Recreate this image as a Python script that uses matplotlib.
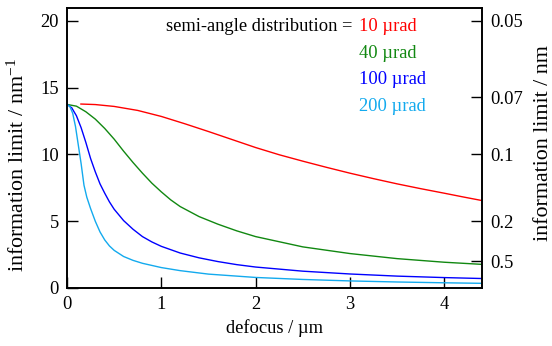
import matplotlib
matplotlib.use("Agg")
import matplotlib.pyplot as plt

plt.rcParams['font.family'] = ['Liberation Serif', 'DejaVu Serif']
plt.rcParams['mathtext.fontset'] = 'custom'
plt.rcParams['mathtext.rm'] = 'Liberation Serif'
plt.rcParams['mathtext.it'] = 'Liberation Serif:italic'

# ---- data ----
labels = ["10 µrad", "40 µrad", "100 µrad", "200 µrad"]
colors = ["#ff0000", "#118811", "#0000ff", "#13aaee"]

red_d = [0.145, 0.3, 0.5, 0.75, 1.0, 1.25, 1.5, 1.75, 2.0, 2.25, 2.5, 2.75, 3.0, 3.25, 3.5, 3.75, 4.0, 4.2, 4.4]
red_v = [13.78, 13.74, 13.6, 13.3, 12.85, 12.3, 11.72, 11.12, 10.52, 9.98, 9.5, 9.04, 8.6, 8.19, 7.8, 7.44, 7.1, 6.82, 6.55]

green_d = [0.0, 0.1, 0.2, 0.3, 0.4, 0.5, 0.6, 0.7, 0.8, 0.9, 1.0, 1.1, 1.2, 1.4, 1.6, 1.8, 2.0, 2.5, 3.0, 3.5, 4.0, 4.4]
green_v = [13.75, 13.62, 13.2, 12.65, 11.95, 11.15, 10.25, 9.4, 8.6, 7.85, 7.2, 6.6, 6.1, 5.35, 4.78, 4.28, 3.85, 3.08, 2.58, 2.2, 1.93, 1.77]

blue_d = [0.0, 0.05, 0.1, 0.15, 0.2, 0.25, 0.3, 0.35, 0.4, 0.45, 0.5, 0.6, 0.7, 0.8, 0.9, 1.0, 1.2, 1.4, 1.6, 1.8, 2.0, 2.5, 3.0, 3.5, 4.0, 4.4]
blue_v = [13.75, 13.5, 12.9, 12.0, 10.9, 9.7, 8.7, 7.8, 7.1, 6.45, 5.9, 5.05, 4.4, 3.85, 3.45, 3.12, 2.62, 2.26, 1.98, 1.75, 1.57, 1.26, 1.05, 0.89, 0.78, 0.71]

cyan_d = [0.0, 0.03, 0.06, 0.09, 0.12, 0.15, 0.18, 0.21, 0.25, 0.3, 0.35, 0.4, 0.45, 0.5, 0.6, 0.7, 0.8, 1.0, 1.2, 1.5, 2.0, 2.5, 3.0, 3.5, 4.0, 4.4]
cyan_v = [13.75, 13.6, 13.1, 12.1, 10.7, 9.3, 7.7, 6.8, 5.95, 5.0, 4.2, 3.6, 3.15, 2.82, 2.36, 2.07, 1.85, 1.53, 1.3, 1.04, 0.79, 0.64, 0.53, 0.45, 0.39, 0.35]

x_ticks = [0, 1, 2, 3, 4]
y_ticks = [0, 5, 10, 15, 20]
right_tick_labels = ["0.05", "0.07", "0.1", "0.2", "0.5"]
right_tick_values = [0.05, 0.07, 0.1, 0.2, 0.5]

W, H = 552, 346
fig = plt.figure(figsize=(W / 100, H / 100), dpi=100)
ax = fig.add_axes([67 / W, 1 - 288 / H, (482 - 67) / W, (288 - 8.3) / H])

series = [(red_d, red_v), (green_d, green_v), (blue_d, blue_v), (cyan_d, cyan_v)]
for (d, v), c in zip(series, colors):
    ax.plot(d, v, color=c, lw=1.0, solid_joinstyle='round', solid_capstyle='round')

ax.set_xlim(0, 4.4)
ax.set_ylim(0, 20.95)
ax.set_xticks(x_ticks)
ax.set_yticks(y_ticks)
fs = 13.3
ax.tick_params(direction='in', length=8, width=1.0, labelsize=fs, top=False, right=False)
ax.tick_params(axis='x', pad=6)
ax.tick_params(axis='y', pad=6)
for s in ax.spines.values():
    s.set_linewidth(1.2)

ax2 = ax.twinx()
ax2.set_ylim(ax.get_ylim())
ax2.set_yticks([1.0 / t for t in right_tick_values])
ax2.set_yticklabels(right_tick_labels)
ax2.tick_params(direction='in', length=8, width=1.0, labelsize=fs, pad=6)
for s in ax2.spines.values():
    s.set_linewidth(1.2)

fs_y = 15.8
fig.text(274.5 / W, 1 - 328 / H, "defocus / µm", fontsize=fs, ha='center', va='center')
fig.text(18 / W, 1 - 165 / H, "information limit / nm$^{-1}$", fontsize=fs_y,
         ha='center', va='center', rotation=90)
fig.text(543 / W, 1 - 143 / H, "information limit / nm", fontsize=fs_y,
         ha='center', va='center', rotation=90)

ax.text(3.03, 19.55, "semi-angle distribution =", ha='right', va='center', fontsize=fs)
label_y = [19.55, 17.57, 15.58, 13.56]
for lab, c, yy in zip(labels, colors, label_y):
    ax.text(3.096, yy, lab, ha='left', va='center', fontsize=fs, color=c)

fig.savefig("out.png", dpi=100)
